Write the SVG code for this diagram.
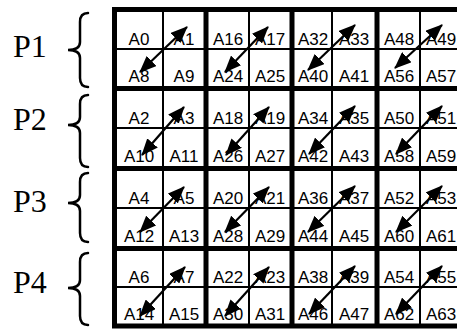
<svg xmlns="http://www.w3.org/2000/svg" width="457" height="329" viewBox="0 0 457 329">
<style>
.thick{stroke:#000;stroke-width:5;fill:none}
.thin{stroke:#000;stroke-width:2;fill:none}
.cell{font-family:"Liberation Sans",Arial,sans-serif;font-size:17px;fill:#000;text-anchor:middle}
.plab{font-family:"Liberation Serif","Times New Roman",serif;font-size:32px;fill:#000}
.brace{stroke:#000;stroke-width:2.5;fill:none;stroke-linecap:round}
.arr{stroke:#000;stroke-width:2.2;fill:none;marker-start:url(#ah);marker-end:url(#ah)}
</style>
<defs>
<marker id="ah" markerUnits="userSpaceOnUse" markerWidth="17" markerHeight="14" viewBox="0 0 17 14" refX="16" refY="7" orient="auto-start-reverse">
<path d="M0,0 L17,7 L0,14 z" fill="#000"/>
</marker>
</defs>
<rect width="457" height="329" fill="#fff"/>

<g id="P1">
<text class="plab" x="13" y="57">P1</text>
<path class="brace" d="M88,13 Q80,13 80,22 L80,42 Q80,50 68,50 Q80,50 80,58 L80,78 Q80,87 88,87"/>
</g>
<g id="P2">
<text class="plab" x="13" y="130">P2</text>
<path class="brace" d="M88,95 Q80,95 80,104 L80,117 Q80,125 68,125 Q80,125 80,133 L80,158 Q80,167 88,167"/>
</g>
<g id="P3">
<text class="plab" x="13" y="212">P3</text>
<path class="brace" d="M88,173 Q80,173 80,182 L80,195 Q80,203 68,203 Q80,203 80,211 L80,233 Q80,242 88,242"/>
</g>
<g id="P4">
<text class="plab" x="13" y="293">P4</text>
<path class="brace" d="M88,253 Q80,253 80,262 L80,280 Q80,288 68,288 Q80,288 80,296 L80,316 Q80,325 88,325"/>
</g>

<g id="grid">
<path class="thin" d="M163,9.5V326 M249,9.5V326 M332,9.5V326 M420,9.5V326 M114.5,49H464 M114.5,128H464 M114.5,208H464 M114.5,287H464"/>
<path class="thick" d="M114.5,7V328.5 M206,7V328.5 M292,7V328.5 M377,7V328.5 M464,7V328.5 M112,9.5H466 M112,88.5H466 M112,168.5H466 M112,248.5H466 M112,326H466"/>
</g>

<g id="block-r0-g0" class="cell"><text x="139" y="45">A0</text><text x="184" y="45">A1</text><text x="139" y="82">A8</text><text x="184" y="82">A9</text></g>
<g id="block-r0-g1" class="cell"><text x="228" y="45">A16</text><text x="270" y="45">A17</text><text x="228" y="82">A24</text><text x="270" y="82">A25</text></g>
<g id="block-r0-g2" class="cell"><text x="313" y="45">A32</text><text x="354" y="45">A33</text><text x="313" y="82">A40</text><text x="354" y="82">A41</text></g>
<g id="block-r0-g3" class="cell"><text x="399" y="45">A48</text><text x="441" y="45">A49</text><text x="399" y="82">A56</text><text x="441" y="82">A57</text></g>

<g id="block-r1-g0" class="cell"><text x="139" y="124">A2</text><text x="184" y="124">A3</text><text x="139" y="162">A10</text><text x="184" y="162">A11</text></g>
<g id="block-r1-g1" class="cell"><text x="228" y="124">A18</text><text x="270" y="124">A19</text><text x="228" y="162">A26</text><text x="270" y="162">A27</text></g>
<g id="block-r1-g2" class="cell"><text x="313" y="124">A34</text><text x="354" y="124">A35</text><text x="313" y="162">A42</text><text x="354" y="162">A43</text></g>
<g id="block-r1-g3" class="cell"><text x="399" y="124">A50</text><text x="441" y="124">A51</text><text x="399" y="162">A58</text><text x="441" y="162">A59</text></g>

<g id="block-r2-g0" class="cell"><text x="139" y="204">A4</text><text x="184" y="204">A5</text><text x="139" y="242">A12</text><text x="184" y="242">A13</text></g>
<g id="block-r2-g1" class="cell"><text x="228" y="204">A20</text><text x="270" y="204">A21</text><text x="228" y="242">A28</text><text x="270" y="242">A29</text></g>
<g id="block-r2-g2" class="cell"><text x="313" y="204">A36</text><text x="354" y="204">A37</text><text x="313" y="242">A44</text><text x="354" y="242">A45</text></g>
<g id="block-r2-g3" class="cell"><text x="399" y="204">A52</text><text x="441" y="204">A53</text><text x="399" y="242">A60</text><text x="441" y="242">A61</text></g>

<g id="block-r3-g0" class="cell"><text x="139" y="283">A6</text><text x="184" y="283">A7</text><text x="139" y="320">A14</text><text x="184" y="320">A15</text></g>
<g id="block-r3-g1" class="cell"><text x="228" y="283">A22</text><text x="270" y="283">A23</text><text x="228" y="320">A30</text><text x="270" y="320">A31</text></g>
<g id="block-r3-g2" class="cell"><text x="313" y="283">A38</text><text x="354" y="283">A39</text><text x="313" y="320">A46</text><text x="354" y="320">A47</text></g>
<g id="block-r3-g3" class="cell"><text x="399" y="283">A54</text><text x="441" y="283">A55</text><text x="399" y="320">A62</text><text x="441" y="320">A63</text></g>

<g id="connectors">
<line class="arr" x1="140" y1="72" x2="187" y2="27"/>
<line class="arr" x1="225" y1="72" x2="268" y2="27"/>
<line class="arr" x1="308" y1="70" x2="355" y2="25"/>
<line class="arr" x1="395" y1="68" x2="442" y2="25"/>

<line class="arr" x1="142" y1="155" x2="184" y2="107"/>
<line class="arr" x1="226" y1="155" x2="269" y2="107"/>
<line class="arr" x1="309" y1="154" x2="355" y2="106"/>
<line class="arr" x1="396" y1="154" x2="442" y2="106"/>

<line class="arr" x1="140" y1="232" x2="184" y2="187"/>
<line class="arr" x1="225" y1="232" x2="269" y2="187"/>
<line class="arr" x1="308" y1="232" x2="355" y2="186"/>
<line class="arr" x1="396" y1="232" x2="442" y2="186"/>

<line class="arr" x1="140" y1="316" x2="185" y2="267"/>
<line class="arr" x1="225" y1="316" x2="269" y2="267"/>
<line class="arr" x1="309" y1="314" x2="355" y2="266"/>
<line class="arr" x1="396" y1="314" x2="442" y2="266"/>
</g>
</svg>
